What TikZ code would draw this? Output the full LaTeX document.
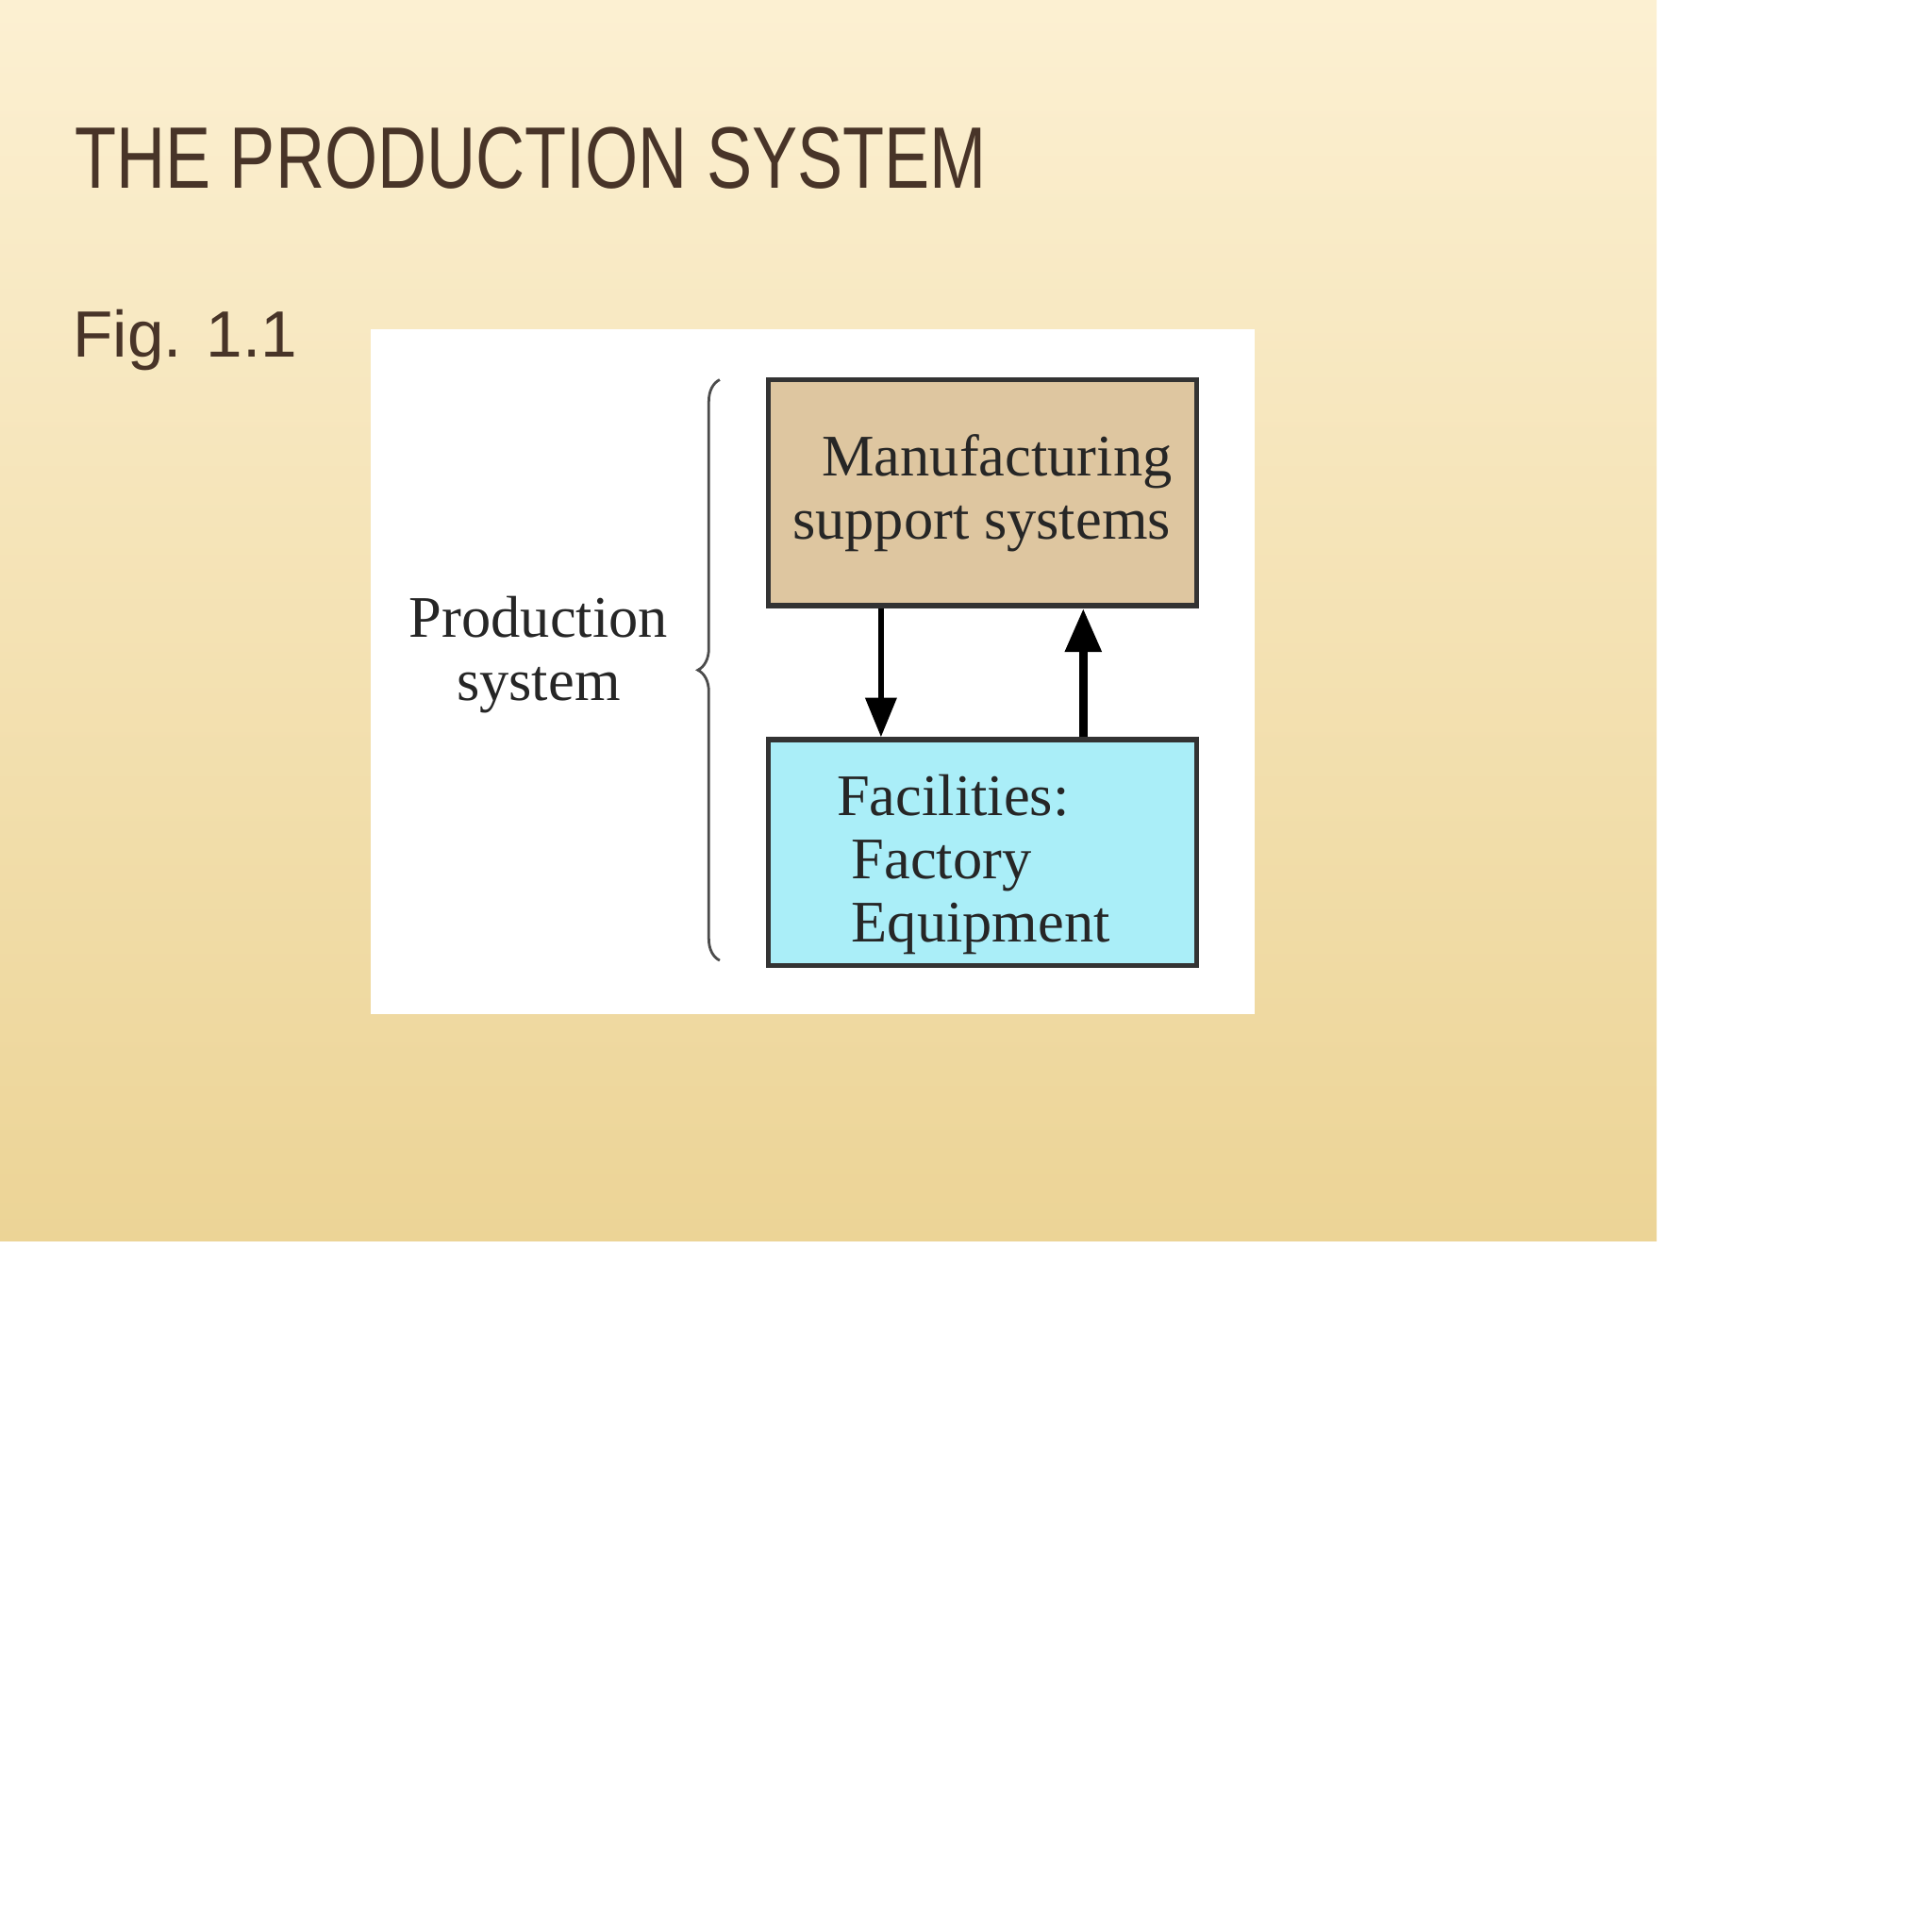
\documentclass[tikz,border=0pt]{standalone}
\usepackage{fontspec}
\setmainfont{Liberation Serif}
\newfontfamily\arialf{Liberation Sans}
\usetikzlibrary{arrows.meta,decorations.pathreplacing}
\definecolor{bgA}{RGB}{252,240,210}
\definecolor{bgB}{RGB}{236,212,150}
\definecolor{ttl}{RGB}{72,52,40}
\definecolor{tan}{RGB}{222,198,160}
\definecolor{cyanb}{RGB}{170,238,248}
\tikzset{
  box/.style={draw=black!80,line width=1.2pt,minimum width=3.45cm,minimum height=1.82cm,anchor=north west},
  lbl/.style={align=left,font=\fontsize{13.5}{14.5}\selectfont,text=black!85},
  arr/.style={-{Triangle[length=9pt,width=7pt]},line width=1.2pt},
  arrthick/.style={-{Triangle[length=10pt,width=8pt]},line width=2pt}
}
\begin{document}
\begin{tikzpicture}[x=0.01cm,y=-0.01cm]
\useasboundingbox (0,0) rectangle (1557,1557);
\fill[white] (0,0) rectangle (1557,1557);
\shade[top color=bgA,bottom color=bgB] (0,0) rectangle (1335,1000);
\node[anchor=base west,inner sep=0,text=ttl,font=\arialf\fontsize{20}{24}\selectfont,xscale=0.78] (title) at (60,152) {THE PRODUCTION SYSTEM};
\node[anchor=base west,inner sep=0,text=ttl,font=\arialf\fontsize{15}{19}\selectfont] (fig) at (58,288) {Fig. 1.1};
\fill[white] (299,265) rectangle (1011,817);
\node[box,fill=tan] (mss) at (617,304) {};
\node[lbl] at (mss.center) {\ \ Manufacturing\\support systems};
\node[box,fill=cyanb] (fac) at (617,594) {};
\node[lbl,anchor=north west] at (662,612) {Facilities:\\ \ Factory\\ \ Equipment};
\draw[arr] (mss.south -| 710,0) -- (fac.north -| 710,0);
\draw[arrthick] (fac.north -| 873,0) -- (mss.south -| 873,0);
\draw[decorate,decoration={brace,amplitude=5pt},line width=0.6pt,black!70] (580,774) -- (580,306);
\node[lbl,align=center] (ps) at (434,528) {Production\\system};
\end{tikzpicture}
\end{document}
